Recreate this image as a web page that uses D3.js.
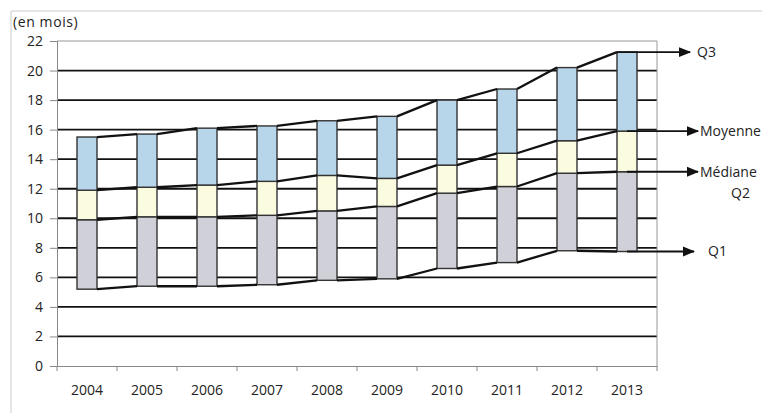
<!DOCTYPE html>
<html><head><meta charset="utf-8">
<script src="https://cdn.jsdelivr.net/npm/d3@7"></script>
<style>body{margin:0;background:#fff;} svg{display:block;} text{font-family:"Open Sans",sans-serif;fill:#222;}</style>
</head><body>
<svg id="c" width="762" height="415"></svg>
<script>
const years = ["2004","2005","2006","2007","2008","2009","2010","2011","2012","2013"];
const q1      = [5.2, 5.4, 5.4, 5.5, 5.8, 5.9, 6.6, 7.0, 7.8, 7.75];
const median  = [9.9, 10.1, 10.1, 10.2, 10.5, 10.8, 11.7, 12.15, 13.05, 13.15];
const mean    = [11.9, 12.1, 12.25, 12.5, 12.9, 12.7, 13.6, 14.4, 15.25, 15.9];
const q3      = [15.5, 15.7, 16.1, 16.25, 16.6, 16.9, 18.0, 18.75, 20.2, 21.25];
const yTicks  = [0,2,4,6,8,10,12,14,16,18,20,22];
const unitLabel = "(en mois)";
const seriesLabels = ["Q3","Moyenne","Médiane","Q2","Q1"];

const svg = d3.select("#c");
const L=57, R=657, T=41, B=366;
const x = d3.scaleBand().domain(years).range([L,R]);
const y = d3.scaleLinear().domain([0,22]).range([B,T]);
const bw = x.bandwidth()/3;
const FS = "14px";

// outer border
svg.append("path").attr("d",`M11,413V11H762`).attr("fill","none").attr("stroke","#ccc").attr("stroke-width",1);

// gridlines
svg.append("g").selectAll("line").data(yTicks.filter(d=>d>0&&d<22)).join("line")
  .attr("x1",L).attr("x2",R).attr("y1",d=>y(d)).attr("y2",d=>y(d))
  .attr("stroke","#111").attr("stroke-width",1.8);
// plot border top/right
svg.append("path").attr("d",`M${L},${y(22)}H${R}V${B}`).attr("fill","none").attr("stroke","#999").attr("stroke-width",1);

// axes
const ya = d3.axisLeft(y).tickValues(yTicks).tickSize(7).tickPadding(7);
const gy = svg.append("g").attr("transform",`translate(${L},0)`).call(ya);
gy.select(".domain").attr("stroke","#888");
gy.selectAll(".tick line").attr("stroke","#888");
gy.selectAll("text").style("font-size",FS).style("font-family","'Open Sans',sans-serif").attr("fill","#222");

const xa = d3.axisBottom(x).tickSize(0).tickPadding(19);
const gx = svg.append("g").attr("transform",`translate(0,${B})`).call(xa);
gx.select(".domain").attr("stroke","#888");
gx.selectAll("text").style("font-size",FS).style("font-family","'Open Sans',sans-serif").attr("fill","#222");
// category separator ticks
svg.append("g").selectAll("line").data(d3.range(years.length+1)).join("line")
  .attr("x1",i=>L+i*x.step()).attr("x2",i=>L+i*x.step()).attr("y1",B).attr("y2",B+5)
  .attr("stroke","#888");

svg.append("text").attr("x",13).attr("y",27).style("font-size",FS).style("letter-spacing","0.6px").text(unitLabel);

// bars
const segs = [
  {lo:q1, hi:median, fill:"#cfd0d8"},
  {lo:median, hi:mean, fill:"#fbfbe0"},
  {lo:mean, hi:q3, fill:"#b8d6ea"}
];
segs.forEach(s=>{
  svg.append("g").selectAll("rect").data(years).join("rect")
    .attr("x",d=>x(d)+bw).attr("width",bw)
    .attr("y",(d,i)=>y(s.hi[i])).attr("height",(d,i)=>y(s.lo[i])-y(s.hi[i]))
    .attr("fill",s.fill).attr("stroke","#333").attr("stroke-width",1.4);
});

// series lines
[q1,median,mean,q3].forEach(arr=>{
  const segsData = d3.range(years.length-1);
  svg.append("g").selectAll("line").data(segsData).join("line")
    .attr("x1",i=>x(years[i])+2*bw).attr("y1",i=>y(arr[i]))
    .attr("x2",i=>x(years[i+1])+bw).attr("y2",i=>y(arr[i+1]))
    .attr("stroke","#111").attr("stroke-width",2.3);
});

// arrows
svg.append("defs").append("marker").attr("id","ah").attr("viewBox","0 0 10 10")
  .attr("refX",9).attr("refY",5).attr("markerWidth",7).attr("markerHeight",7).attr("orient","auto")
  .append("path").attr("d","M0,1L10,5L0,9Z").attr("fill","#111");
const last = years.length-1, xl = x(years[last]);
const arrows = [
  {x1:xl+bw, v:q3[last], x2:690, label:seriesLabels[0], lx:697},
  {x1:xl+1.5*bw, v:mean[last], x2:698, label:seriesLabels[1], lx:700},
  {x1:xl+1.5*bw, v:median[last], x2:698, label:seriesLabels[2], lx:700},
  {x1:xl+1.5*bw, v:q1[last], x2:694, label:seriesLabels[4], lx:708}
];
arrows.forEach(a=>{
  svg.append("line").attr("x1",a.x1).attr("x2",a.x2).attr("y1",y(a.v)).attr("y2",y(a.v))
    .attr("stroke","#111").attr("stroke-width",1.8).attr("marker-end","url(#ah)");
  svg.append("text").attr("x",a.lx).attr("y",y(a.v)).attr("dy","0.35em").style("font-size",FS).text(a.label);
});
svg.append("text").attr("x",731).attr("y",y(median[last])+21).attr("dy","0.35em").style("font-size",FS).text(seriesLabels[3]);
</script>
</body></html>
